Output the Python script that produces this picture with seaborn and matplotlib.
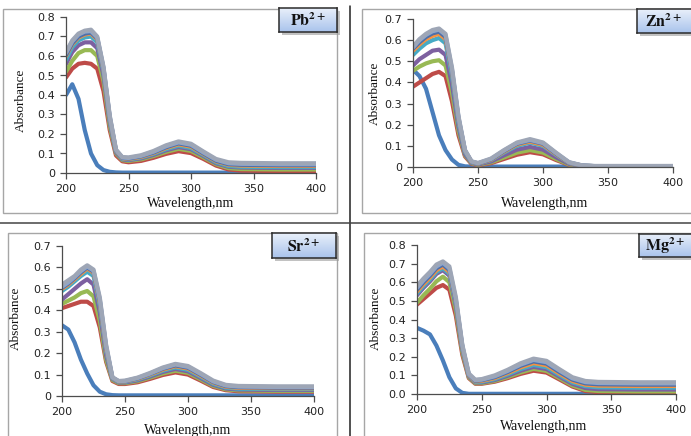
import numpy as np
import pandas as pd
import matplotlib
matplotlib.use("Agg")
import matplotlib.pyplot as plt
import seaborn as sns
from matplotlib.patches import Rectangle
from matplotlib.lines import Line2D
from matplotlib.colors import LinearSegmentedColormap

# ---------------- data ----------------
wavelength = [200, 205, 210, 215, 220, 225, 230, 235, 240, 245, 250,
              260, 270, 280, 290, 300, 310, 320, 330, 340, 370, 400]

series_names = ["L", "S1", "S2", "S3", "S4", "S5", "S6", "S7", "S8"]

pb_curves = [
    [0.40, 0.455, 0.38, 0.22, 0.10, 0.04, 0.015, 0.006, 0.003, 0.002, 0.002, 0.002, 0.002, 0.002, 0.002, 0.002, 0.002, 0.002, 0.002, 0.002, 0.002, 0.002],
    [0.49, 0.535, 0.56, 0.565, 0.56, 0.535, 0.42, 0.22, 0.09, 0.06, 0.055, 0.062, 0.078, 0.098, 0.112, 0.102, 0.072, 0.038, 0.018, 0.012, 0.010, 0.010],
    [0.52, 0.575, 0.615, 0.63, 0.63, 0.60, 0.47, 0.24, 0.10, 0.066, 0.062, 0.070, 0.087, 0.108, 0.124, 0.113, 0.080, 0.045, 0.025, 0.020, 0.018, 0.018],
    [0.56, 0.62, 0.655, 0.67, 0.67, 0.64, 0.50, 0.26, 0.105, 0.070, 0.066, 0.075, 0.093, 0.116, 0.133, 0.122, 0.087, 0.050, 0.032, 0.028, 0.026, 0.026],
    [0.58, 0.645, 0.68, 0.695, 0.70, 0.67, 0.52, 0.27, 0.11, 0.073, 0.069, 0.079, 0.098, 0.122, 0.140, 0.128, 0.092, 0.055, 0.036, 0.032, 0.030, 0.030],
    [0.60, 0.66, 0.695, 0.71, 0.715, 0.685, 0.53, 0.28, 0.113, 0.076, 0.072, 0.082, 0.102, 0.128, 0.147, 0.135, 0.097, 0.060, 0.042, 0.038, 0.036, 0.036],
    [0.605, 0.665, 0.70, 0.715, 0.72, 0.69, 0.535, 0.285, 0.115, 0.078, 0.074, 0.085, 0.105, 0.132, 0.152, 0.140, 0.100, 0.063, 0.045, 0.042, 0.040, 0.040],
    [0.615, 0.675, 0.71, 0.725, 0.728, 0.695, 0.54, 0.29, 0.118, 0.080, 0.077, 0.088, 0.109, 0.137, 0.157, 0.145, 0.105, 0.068, 0.050, 0.047, 0.045, 0.045],
    [0.62, 0.68, 0.715, 0.73, 0.735, 0.70, 0.545, 0.295, 0.12, 0.082, 0.080, 0.091, 0.113, 0.142, 0.162, 0.150, 0.110, 0.072, 0.055, 0.052, 0.050, 0.050],
]

zn_curves = [
    [0.46, 0.43, 0.37, 0.26, 0.15, 0.08, 0.035, 0.010, 0.003, 0.002, 0.002, 0.002, 0.002, 0.002, 0.002, 0.002, 0.002, 0.002, 0.002, 0.002, 0.002, 0.002],
    [0.38, 0.40, 0.42, 0.44, 0.45, 0.43, 0.31, 0.15, 0.05, 0.015, 0.008, 0.018, 0.038, 0.058, 0.070, 0.060, 0.033, 0.010, 0.004, 0.003, 0.003, 0.003],
    [0.455, 0.475, 0.49, 0.50, 0.505, 0.48, 0.35, 0.17, 0.055, 0.018, 0.010, 0.022, 0.045, 0.068, 0.080, 0.068, 0.038, 0.012, 0.004, 0.003, 0.003, 0.003],
    [0.48, 0.51, 0.53, 0.55, 0.555, 0.53, 0.39, 0.19, 0.06, 0.020, 0.012, 0.026, 0.055, 0.082, 0.095, 0.082, 0.046, 0.015, 0.005, 0.003, 0.003, 0.003],
    [0.53, 0.56, 0.585, 0.60, 0.61, 0.585, 0.43, 0.21, 0.07, 0.022, 0.015, 0.032, 0.068, 0.100, 0.115, 0.100, 0.057, 0.019, 0.006, 0.004, 0.004, 0.004],
    [0.55, 0.58, 0.605, 0.62, 0.63, 0.605, 0.45, 0.225, 0.075, 0.024, 0.016, 0.034, 0.072, 0.106, 0.120, 0.105, 0.060, 0.020, 0.006, 0.004, 0.004, 0.004],
    [0.56, 0.59, 0.615, 0.632, 0.64, 0.615, 0.455, 0.23, 0.077, 0.025, 0.017, 0.036, 0.075, 0.110, 0.125, 0.110, 0.063, 0.021, 0.007, 0.004, 0.004, 0.004],
    [0.565, 0.60, 0.625, 0.642, 0.65, 0.625, 0.462, 0.235, 0.079, 0.026, 0.018, 0.038, 0.078, 0.113, 0.128, 0.113, 0.066, 0.022, 0.007, 0.004, 0.004, 0.004],
    [0.57, 0.605, 0.63, 0.648, 0.655, 0.63, 0.47, 0.24, 0.08, 0.027, 0.019, 0.040, 0.080, 0.116, 0.132, 0.116, 0.068, 0.023, 0.008, 0.005, 0.005, 0.005],
]

sr_curves = [
    [0.33, 0.31, 0.25, 0.17, 0.105, 0.05, 0.02, 0.008, 0.004, 0.003, 0.003, 0.003, 0.003, 0.003, 0.003, 0.003, 0.003, 0.003, 0.003, 0.003, 0.003, 0.003],
    [0.41, 0.42, 0.43, 0.44, 0.44, 0.42, 0.32, 0.16, 0.07, 0.056, 0.056, 0.064, 0.080, 0.098, 0.110, 0.100, 0.072, 0.042, 0.027, 0.022, 0.020, 0.020],
    [0.43, 0.445, 0.46, 0.48, 0.49, 0.465, 0.35, 0.17, 0.075, 0.060, 0.060, 0.069, 0.086, 0.105, 0.118, 0.108, 0.078, 0.047, 0.031, 0.026, 0.024, 0.024],
    [0.45, 0.475, 0.50, 0.525, 0.545, 0.52, 0.39, 0.19, 0.08, 0.063, 0.063, 0.073, 0.091, 0.112, 0.126, 0.115, 0.084, 0.052, 0.035, 0.030, 0.028, 0.028],
    [0.49, 0.51, 0.535, 0.56, 0.58, 0.56, 0.42, 0.21, 0.082, 0.065, 0.066, 0.077, 0.096, 0.118, 0.133, 0.122, 0.090, 0.057, 0.039, 0.034, 0.032, 0.032],
    [0.50, 0.52, 0.545, 0.57, 0.595, 0.575, 0.435, 0.22, 0.084, 0.067, 0.068, 0.080, 0.100, 0.123, 0.139, 0.128, 0.095, 0.062, 0.043, 0.038, 0.036, 0.036],
    [0.505, 0.525, 0.55, 0.577, 0.60, 0.58, 0.445, 0.228, 0.085, 0.068, 0.069, 0.082, 0.103, 0.127, 0.143, 0.132, 0.099, 0.065, 0.046, 0.041, 0.039, 0.039],
    [0.51, 0.53, 0.555, 0.583, 0.605, 0.585, 0.452, 0.234, 0.086, 0.069, 0.070, 0.084, 0.105, 0.130, 0.147, 0.136, 0.103, 0.068, 0.049, 0.044, 0.042, 0.042],
    [0.52, 0.54, 0.56, 0.59, 0.61, 0.59, 0.46, 0.24, 0.088, 0.070, 0.072, 0.086, 0.108, 0.133, 0.150, 0.140, 0.107, 0.072, 0.052, 0.047, 0.045, 0.045],
]

mg_curves = [
    [0.355, 0.34, 0.32, 0.26, 0.18, 0.09, 0.03, 0.006, 0.001, 0.001, 0.001, 0.001, 0.001, 0.001, 0.001, 0.001, 0.001, 0.001, 0.001, 0.001, 0.001, 0.001],
    [0.48, 0.51, 0.54, 0.57, 0.585, 0.56, 0.42, 0.21, 0.085, 0.055, 0.055, 0.066, 0.085, 0.108, 0.125, 0.115, 0.078, 0.040, 0.016, 0.010, 0.008, 0.008],
    [0.49, 0.53, 0.565, 0.605, 0.63, 0.60, 0.45, 0.225, 0.09, 0.058, 0.058, 0.070, 0.091, 0.116, 0.135, 0.124, 0.085, 0.046, 0.022, 0.016, 0.014, 0.014],
    [0.53, 0.57, 0.605, 0.645, 0.665, 0.635, 0.475, 0.24, 0.095, 0.062, 0.062, 0.075, 0.098, 0.125, 0.146, 0.134, 0.093, 0.054, 0.032, 0.026, 0.024, 0.024],
    [0.54, 0.58, 0.615, 0.655, 0.675, 0.645, 0.485, 0.245, 0.098, 0.065, 0.066, 0.080, 0.105, 0.134, 0.156, 0.144, 0.102, 0.062, 0.042, 0.036, 0.034, 0.034],
    [0.55, 0.59, 0.625, 0.665, 0.685, 0.655, 0.495, 0.25, 0.10, 0.068, 0.070, 0.085, 0.112, 0.143, 0.166, 0.154, 0.110, 0.070, 0.050, 0.045, 0.043, 0.043],
    [0.56, 0.60, 0.635, 0.675, 0.695, 0.665, 0.50, 0.255, 0.103, 0.071, 0.074, 0.090, 0.118, 0.151, 0.175, 0.163, 0.118, 0.077, 0.057, 0.052, 0.050, 0.050],
    [0.57, 0.61, 0.645, 0.685, 0.705, 0.675, 0.51, 0.26, 0.106, 0.074, 0.077, 0.095, 0.124, 0.158, 0.183, 0.171, 0.126, 0.084, 0.064, 0.059, 0.057, 0.057],
    [0.58, 0.62, 0.655, 0.695, 0.712, 0.685, 0.52, 0.265, 0.11, 0.077, 0.080, 0.100, 0.130, 0.165, 0.190, 0.178, 0.133, 0.090, 0.070, 0.065, 0.063, 0.063],
]

panel_titles = ["Pb", "Zn", "Sr", "Mg"]
y_max = [0.8, 0.7, 0.7, 0.8]
x_ticks = [200, 250, 300, 350, 400]
x_label = "Wavelength,nm"
y_label = "Absorbance"

# ---------------- style ----------------
sns.set_theme(style="white")
plt.rcParams["font.family"] = ["DejaVu Sans"]
plt.rcParams["mathtext.fontset"] = "stix"

line_colors = ["#4A7EBB", "#BE4B48", "#98B954", "#7D60A0", "#46AAC5",
               "#F69240", "#4F6FA8", "#8EA6CC", "#9EA6B6"]

W, H = 691, 436
fig = plt.figure(figsize=(W / 100, H / 100), dpi=100)
fig.patch.set_facecolor("white")


def fx(px):
    return px / W


def fy(py):
    return 1 - py / H


def frame(x0, y0, x1, y1):
    fig.add_artist(Rectangle((fx(x0), fy(y1)), fx(x1 - x0), (y1 - y0) / H,
                             transform=fig.transFigure, facecolor="white",
                             edgecolor="#A6A6A6", lw=1.0, zorder=0))


# chart-area frames
frame(3, 9, 337, 213)
frame(362, 9, 700, 213)
frame(8, 233, 337, 445)
frame(364, 233, 700, 445)

# table grid lines
fig.add_artist(Line2D([fx(350), fx(350)], [fy(6), fy(436)], color="#222222",
                      lw=1.1, transform=fig.transFigure, zorder=1))
fig.add_artist(Line2D([0, 1], [fy(223), fy(223)], color="#444444",
                      lw=1.1, transform=fig.transFigure, zorder=1))

# plot areas: (x200, x400, y_top, y_zero) in pixels
areas = [(66, 316, 17, 173), (413, 673, 19, 167),
         (62, 314, 246, 396), (417, 676, 245, 394)]
curve_sets = [pb_curves, zn_curves, sr_curves, mg_curves]
zero_fmt = ["0", "0", "0", "0.0"]
ylab_pos = [(21, 100), (375, 93), (16, 318), (376, 318)]
xlab_pos = [(191, 203), (545, 203), (188, 430), (544, 426)]
boxes = [(279, 8, 337, 32), (637, 9, 700, 33), (272, 233, 336, 258), (639, 234, 700, 257)]

grad = np.linspace(0, 1, 64).reshape(-1, 1)
box_cmap = LinearSegmentedColormap.from_list("bx", ["#E9F0FA", "#A9C3EC"])

for i in range(4):
    x0, x1, yt, yz = areas[i]
    ymax = y_max[i]
    ax = fig.add_axes([fx(x0), fy(yz), fx(x1 - x0), (yz - yt) / H])
    ax.set_facecolor("none")
    rows = []
    for name, vals in zip(series_names, curve_sets[i]):
        for w, v in zip(wavelength, vals):
            rows.append((name, w, v))
    df = pd.DataFrame(rows, columns=["series", "wl", "abs"])
    sns.lineplot(data=df, x="wl", y="abs", hue="series", palette=line_colors,
                 hue_order=series_names, lw=3.0, legend=False, ax=ax,
                 solid_joinstyle="round", solid_capstyle="round")
    ax.set_xlim(200, 400)
    ax.set_ylim(0, ymax)
    ax.set_xticks(x_ticks)
    yt_vals = np.round(np.arange(0, ymax + 1e-9, 0.1), 1)
    ax.set_yticks(yt_vals)
    ax.set_yticklabels([zero_fmt[i]] + [f"{v:.1f}" for v in yt_vals[1:]])
    ax.set_xlabel("")
    ax.set_ylabel("")
    for s in ["top", "right"]:
        ax.spines[s].set_visible(False)
    for s in ["left", "bottom"]:
        ax.spines[s].set_color("#4D4D4D")
        ax.spines[s].set_linewidth(0.9)
    ax.tick_params(axis="both", direction="out", length=4, width=0.9,
                   color="#4D4D4D", labelsize=8, labelcolor="#222222",
                   left=True, bottom=True)
    ax.tick_params(axis="y", pad=4)
    ax.tick_params(axis="x", pad=4)
    ax.grid(False)

    lx, ly = ylab_pos[i]
    fig.text(fx(lx), fy(ly), y_label, rotation=90, ha="center", va="center",
             family="Liberation Serif", fontsize=9.5, color="#111111")
    wx, wy = xlab_pos[i]
    fig.text(fx(wx), fy(wy), x_label, ha="center", va="center",
             family="Liberation Serif", fontsize=10, color="#111111")

    # label box with shadow and gradient
    bx0, by0, bx1, by1 = boxes[i]
    fig.add_artist(Rectangle((fx(bx0 + 3), fy(by1 + 3)), fx(bx1 - bx0), (by1 - by0) / H,
                             transform=fig.transFigure, facecolor="#9A9A9A",
                             edgecolor="none", alpha=0.6, zorder=3))
    bax = fig.add_axes([fx(bx0), fy(by1), fx(bx1 - bx0), (by1 - by0) / H], zorder=4)
    bax.imshow(grad, aspect="auto", cmap=box_cmap, extent=[0, 1, 0, 1], origin="upper")
    bax.set_xticks([])
    bax.set_yticks([])
    for s in bax.spines.values():
        s.set_visible(True)
        s.set_color("#2B2B2B")
        s.set_linewidth(1.1)
    name = panel_titles[i]
    bax.text(0.5 if i in (0, 2) else 0.42, 0.48,
             r"$\mathbf{" + name + r"}^{\mathbf{2+}}$", transform=bax.transAxes,
             ha="center", va="center", fontsize=11.5, color="#111111")

fig.savefig("out.png", dpi=100, facecolor="white")
